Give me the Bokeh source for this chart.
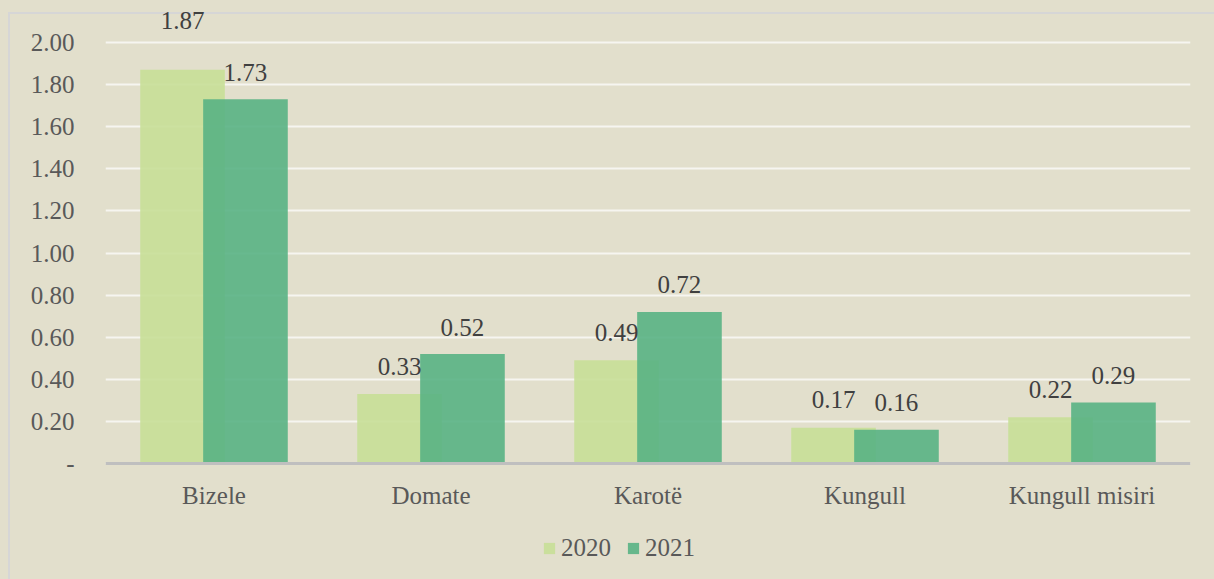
from bokeh.plotting import figure
from bokeh.models import (ColumnDataSource, FixedTicker, Legend, LegendItem, Range1d,
                          FactorRange, Span, CustomJSTickFormatter)
from bokeh.transform import dodge
from bokeh.core.properties import value
from bokeh.embed import file_html
from bokeh.resources import INLINE

categories = ["Bizele", "Domate", "Karotë", "Kungull", "Kungull misiri"]
values_2020 = [1.87, 0.33, 0.49, 0.17, 0.22]
values_2021 = [1.73, 0.52, 0.72, 0.16, 0.29]
series_names = ["2020", "2021"]
y_ticks = [0.0, 0.2, 0.4, 0.6, 0.8, 1.0, 1.2, 1.4, 1.6, 1.8, 2.0]

# label styling (pixel offsets relative to bar tops / baseline)
label_dy_2020 = [-49, -28, -28, -28, -28]
label_dy_2021 = [-27, -27, -27, -27, -27]

FONT = "Liberation Serif"
AFONT = "Times"
FS = "25px"
BG = "#e2dfcc"
W, H = 1214, 579
PX_PER_UNIT = 210.5
ZERO_Y = 463

src = ColumnDataSource(dict(
    cat=categories,
    v2020=values_2020,
    v2021=values_2021,
    l2020=[f"{v:.2f}" for v in values_2020],
    l2021=[f"{v:.2f}" for v in values_2021],
    dy2020=label_dy_2020,
    dy2021=label_dy_2021,
    zero=[0.0] * len(categories),
))

p = figure(width=W, height=H, x_range=FactorRange(*categories),
           y_range=Range1d(-(H - ZERO_Y) / PX_PER_UNIT, 2 + 42 / PX_PER_UNIT),
           output_backend="svg", toolbar_location=None,
           min_border_left=105, min_border_right=W - 1190, min_border_top=0, min_border_bottom=0)
p.background_fill_alpha = 0
p.border_fill_alpha = 0
p.outline_line_color = None
p.styles = {
    "background": ("linear-gradient(#d6d6d6, #d6d6d6) 8px 12px / 2px 100% no-repeat, "
                   "linear-gradient(#d6d6d6, #d6d6d6) 8px 12px / 100% 2px no-repeat, " + BG),
}
p.x_range.range_padding = 0
p.x_range.factor_padding = 0

off = 0.145
bw = 0.39
r1 = p.vbar(x=dodge("cat", -off, range=p.x_range), top="v2020", width=bw, source=src,
            fill_color="#c8df97", fill_alpha=0.9, line_color=None)
r2 = p.vbar(x=dodge("cat", off, range=p.x_range), top="v2021", width=bw, source=src,
            fill_color="#59b384", fill_alpha=0.9, line_color=None)

# value labels
p.text(x=dodge("cat", -off, range=p.x_range), y="v2020", text="l2020", source=src,
       y_offset="dy2020", text_align="center", text_baseline="alphabetic",
       text_font=value(FONT), text_font_size=FS, text_color="#404040")
p.text(x=dodge("cat", off, range=p.x_range), y="v2021", text="l2021", source=src,
       y_offset="dy2021", text_align="center", text_baseline="alphabetic",
       text_font=value(FONT), text_font_size=FS, text_color="#404040")

# category labels under the zero line
p.text(x="cat", y="zero", text="cat", source=src, y_offset=32,
       text_align="center", text_baseline="alphabetic",
       text_font=value(FONT), text_font_size=FS, text_color="#595959")

# zero axis line
p.add_layout(Span(location=0, dimension="width", line_color="#bfbfbf", line_width=3))

# grid
p.xgrid.grid_line_color = None
p.ygrid.grid_line_color = "#f6f5f0"
p.ygrid.grid_line_width = 2
p.yaxis.ticker = FixedTicker(ticks=y_ticks)
p.xaxis.visible = False

# y axis
ya = p.yaxis[0]
ya.axis_line_color = None
ya.major_tick_line_color = None
ya.minor_tick_line_color = None
ya.major_label_text_font = AFONT
ya.major_label_text_font_size = FS
ya.major_label_text_color = "#595959"
ya.major_label_standoff = 25
ya.formatter = CustomJSTickFormatter(code="return Math.abs(tick) < 1e-9 ? '-' : tick.toFixed(2);")

legend = Legend(items=[LegendItem(label=series_names[0], renderers=[r1]),
                       LegendItem(label=series_names[1], renderers=[r2])],
                orientation="horizontal", location=(437, 17))
legend.background_fill_alpha = 0
legend.border_line_color = None
legend.padding = 0
legend.margin = 0
legend.spacing = 15
legend.glyph_width = 14
legend.glyph_height = 14
legend.label_standoff = 5
legend.label_text_font = AFONT
legend.label_text_font_size = FS
legend.label_text_color = "#595959"
p.add_layout(legend, "center")

open("out.html", "w").write(file_html(p, INLINE))
